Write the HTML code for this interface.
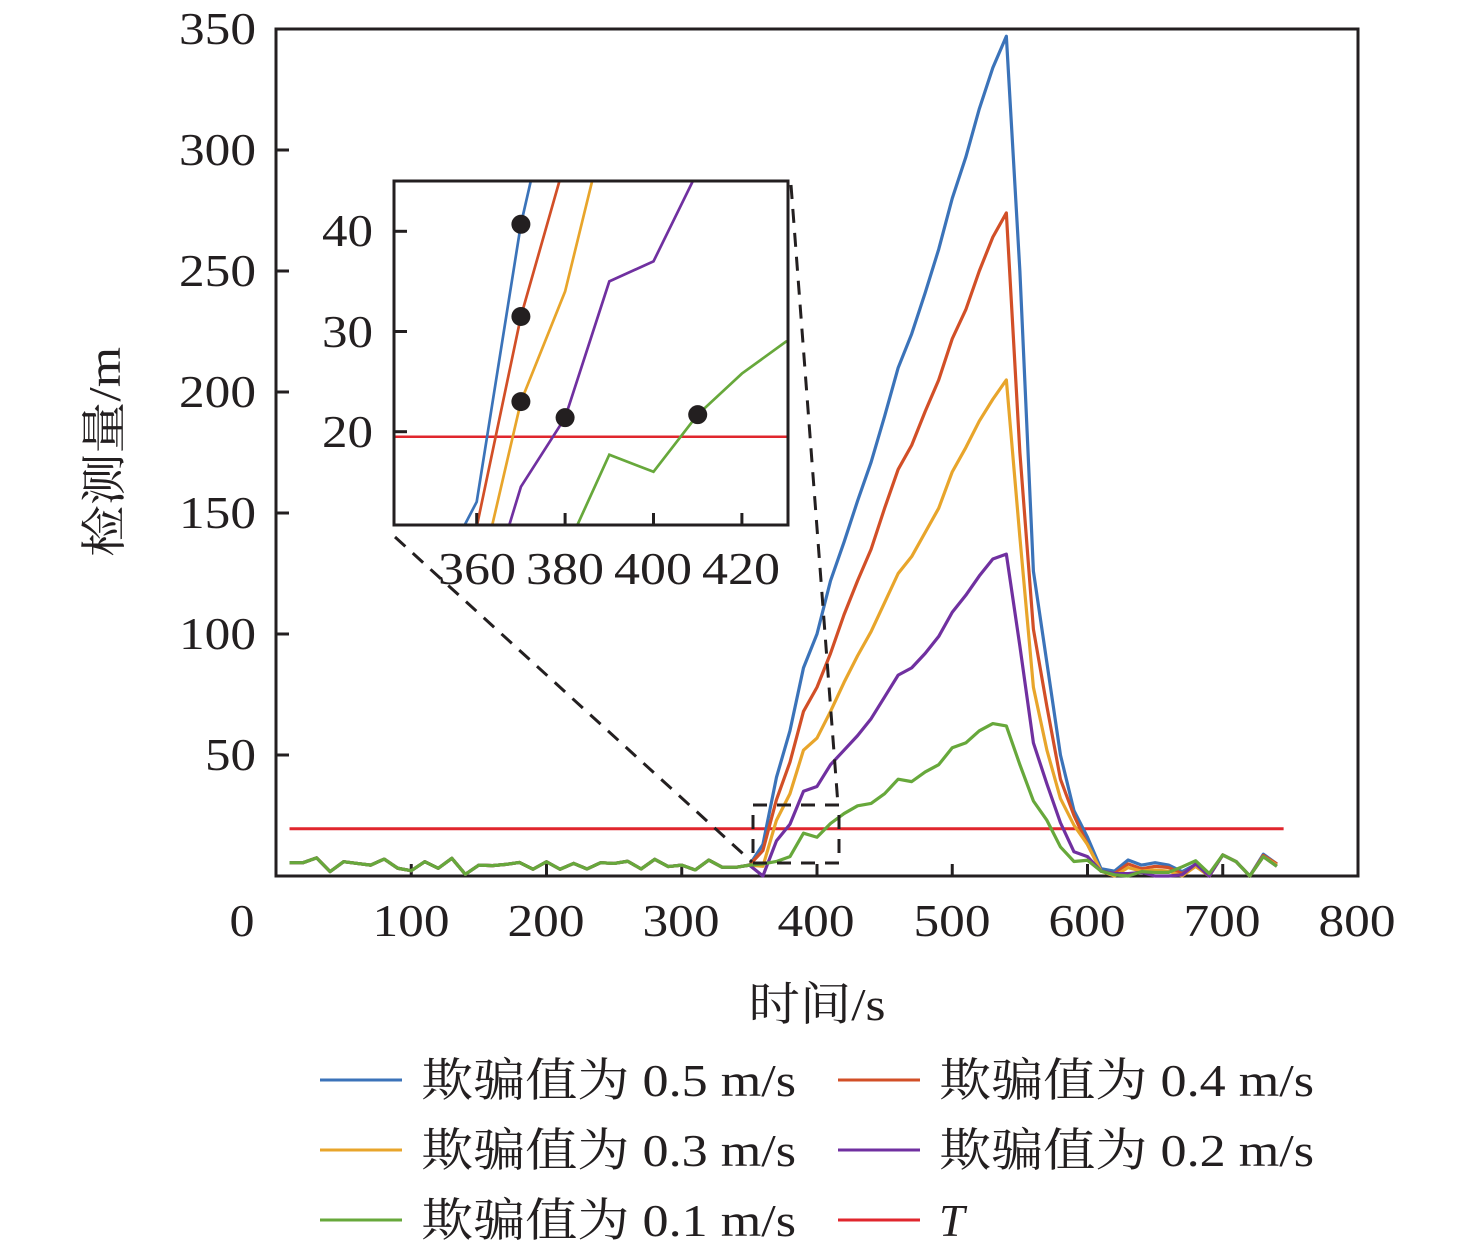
<!DOCTYPE html>
<html><head><meta charset="utf-8"><style>
body{margin:0;background:#fff}
svg{display:block}
text{font-family:"Liberation Serif","Noto Serif CJK SC",serif;fill:#231f20}
</style></head><body>
<svg id="chart" width="1476" height="1255" viewBox="0 0 1476 1255" xmlns="http://www.w3.org/2000/svg">
<g id="main"></g>
<g id="inset"></g>
<g font-size="46" text-anchor="end">
<text x="256" y="44" textLength="77" lengthAdjust="spacingAndGlyphs">350</text><text x="256" y="165" textLength="77" lengthAdjust="spacingAndGlyphs">300</text><text x="256" y="286" textLength="77" lengthAdjust="spacingAndGlyphs">250</text><text x="256" y="407" textLength="77" lengthAdjust="spacingAndGlyphs">200</text><text x="256" y="528" textLength="77" lengthAdjust="spacingAndGlyphs">150</text><text x="256" y="649" textLength="77" lengthAdjust="spacingAndGlyphs">100</text><text x="256" y="770" textLength="51" lengthAdjust="spacingAndGlyphs">50</text>
</g>
<g font-size="46" text-anchor="middle">
<text x="242" y="936" textLength="25" lengthAdjust="spacingAndGlyphs">0</text><text x="411" y="936" textLength="77" lengthAdjust="spacingAndGlyphs">100</text><text x="546" y="936" textLength="77" lengthAdjust="spacingAndGlyphs">200</text><text x="681" y="936" textLength="77" lengthAdjust="spacingAndGlyphs">300</text><text x="816" y="936" textLength="77" lengthAdjust="spacingAndGlyphs">400</text><text x="952" y="936" textLength="77" lengthAdjust="spacingAndGlyphs">500</text><text x="1087" y="936" textLength="77" lengthAdjust="spacingAndGlyphs">600</text><text x="1222" y="936" textLength="77" lengthAdjust="spacingAndGlyphs">700</text><text x="1357" y="936" textLength="77" lengthAdjust="spacingAndGlyphs">800</text>
</g>
<g font-size="46">
<text x="373" y="246" text-anchor="end" textLength="51" lengthAdjust="spacingAndGlyphs">40</text><text x="373" y="347" text-anchor="end" textLength="51" lengthAdjust="spacingAndGlyphs">30</text><text x="373" y="447" text-anchor="end" textLength="51" lengthAdjust="spacingAndGlyphs">20</text>
<text x="477" y="584" text-anchor="middle" textLength="78" lengthAdjust="spacingAndGlyphs">360</text><text x="565" y="584" text-anchor="middle" textLength="78" lengthAdjust="spacingAndGlyphs">380</text><text x="653" y="584" text-anchor="middle" textLength="78" lengthAdjust="spacingAndGlyphs">400</text><text x="741" y="584" text-anchor="middle" textLength="78" lengthAdjust="spacingAndGlyphs">420</text>
</g>
<text x="817" y="1020" font-size="46" text-anchor="middle" textLength="137" lengthAdjust="spacingAndGlyphs">时间/s</text>
<text x="0" y="0" font-size="46" text-anchor="middle" transform="translate(120,452) rotate(-90)" textLength="210" lengthAdjust="spacingAndGlyphs">检测量/m</text>
<g id="legend" font-size="46"></g>
</svg>
<script>
const times=[10,20,30,40,50,60,70,80,90,100,110,120,130,140,150,160,170,180,190,200,210,220,230,240,250,260,270,280,290,300,310,320,330,340,350,360,370,380,390,400,410,420,430,440,450,460,470,480,490,500,510,520,530,540,550,560,570,580,590,600,610,620,630,640,650,660,670,680,690,700,710,720,730,740];
const baseline=[5.5,5.5,7.5,1.8,5.9,5.2,4.5,7,3.2,2.2,5.9,3.2,7.3,0.7,4.5,4.3,4.8,5.6,2.8,5.9,2.8,5.2,2.9,5.5,5.2,6.1,2.9,6.9,3.9,4.5,2.5,6.6,3.6,3.6,4.5];
const blueTail=[13,40.7,60,86,100,122,138,155,171,190,210,224,241,259,280,297,317,334,347,250,126,88,50,27,16,3,2,6.6,4.5,5.5,4.5,1.8,4.8,0,8.7,5.9,0,9,5];
const redTail=[10.5,31.5,47,68,78,92,108,122,135,152,168,178,192,205,222,234,250,264,274,175,102,70,40,25,13,2,1,5,3,4,3.5,1,4,0,8.7,5.9,0,8.5,5];
const yellowTail=[4,23,34,52,57,68,80,91,101,113,125,132,142,152,167,177,188,197,205,140,78,52,32,21,13,2,0,3.5,2,2.5,2,0,4,0,8.7,5.9,0,8,4.5];
const purpleTail=[0,14.5,21.4,35,37,46,52,58,65,74,83,86,92,99,109,116,124,131,133,95,55,38,22,10,8,2,1,1,1.5,0,0,0.5,5,0,8.7,5.9,0,8,4];
const greenTail=[5,6,8,17.7,16,21.7,25.8,29,30,34,40,39,43,46,53,55,60,63,62,46,31,23,12,6,6.5,2,0.5,0,1.8,1.5,1.5,3.8,6.3,1,8.7,5.9,0,8,4];
const threshold=19.5;
const seriesNames=["欺骗值为 0.5 m/s","欺骗值为 0.4 m/s","欺骗值为 0.3 m/s","欺骗值为 0.2 m/s","欺骗值为 0.1 m/s"];
const xTicks=[100,200,300,400,500,600,700];
const yTicks=[50,100,150,200,250,300];
const insetXTicks=[360,380,400,420];
const insetYTicks=[20,30,40];

const colors=["#3b73b9","#d24f27","#e8a52b","#7030a0","#67a83b"];
const keys=["blue","red","yellow","purple","green"];
const tails=[blueTail,redTail,yellowTail,purpleTail,greenTail];
const series=tails.map(t=>baseline.concat(t));
const NS="http://www.w3.org/2000/svg";
function mk(tag,attrs,parent){const e=document.createElementNS(NS,tag);for(const k in attrs)e.setAttribute(k,attrs[k]);parent.appendChild(e);return e;}
const X=v=>276+v*1.3525, Y=v=>876-v*2.42;
const IX=v=>476.7+(v-360)*4.42, IY=v=>431.7-(v-20)*10.02;
const main=document.getElementById('main'), inset=document.getElementById('inset');
let r=mk('rect',{x:276,y:29,width:1082,height:847,fill:'none',stroke:'#231f20','stroke-width':3},main);


xTicks.forEach(t=>{const l=mk('line',{x1:X(t),x2:X(t),y1:876,y2:864,stroke:'#231f20','stroke-width':3},main);

});
yTicks.forEach(t=>{const l=mk('line',{x1:276,x2:289,y1:Y(t),y2:Y(t),stroke:'#231f20','stroke-width':3},main);

});
let tl=mk('line',{x1:X(10),x2:X(745),y1:Y(threshold),y2:Y(threshold),stroke:'#e0262d','stroke-width':3},main);


series.forEach((s,i)=>{const p=mk('polyline',{points:s.map((v,j)=>X(times[j])+','+Y(v)).join(' '),fill:'none',stroke:colors[i],'stroke-width':3.2,'stroke-linejoin':'round'},main);

});
let dr=mk('rect',{x:753,y:805,width:86,height:58,fill:'none',stroke:'#231f20','stroke-width':3,'stroke-dasharray':'14,10'},main);


let c1=mk('line',{x1:791,y1:185,x2:838,y2:805,stroke:'#231f20','stroke-width':3,'stroke-dasharray':'14,10'},main);


let c2=mk('line',{x1:395,y1:537,x2:752,y2:862,stroke:'#231f20','stroke-width':3,'stroke-dasharray':'14,10'},main);


let ib=mk('rect',{x:394,y:181,width:394,height:344,fill:'#fff',stroke:'none'},inset);


const cp=mk('clipPath',{id:'ic'},inset);mk('rect',{x:394,y:181,width:394,height:344},cp);
const ig=mk('g',{'clip-path':'url(#ic)'},inset);


let itl=mk('line',{x1:394,x2:788,y1:IY(threshold),y2:IY(threshold),stroke:'#e0262d','stroke-width':2.5},ig);


series.forEach((s,i)=>{const p=mk('polyline',{points:s.map((v,j)=>IX(times[j])+','+IY(v)).join(' '),fill:'none',stroke:colors[i],'stroke-width':2.7},ig);

});
series.forEach((s,i)=>{let j=s.findIndex((v,k)=>times[k]>=355&&v>threshold);if(j<0)return;
const d=mk('circle',{cx:IX(times[j]),cy:IY(s[j]),r:9.5,fill:'#231f20'},inset);

});
let ifr=mk('rect',{x:394,y:181,width:394,height:344,fill:'none',stroke:'#231f20','stroke-width':3},inset);


insetXTicks.forEach(t=>{const l=mk('line',{x1:IX(t),x2:IX(t),y1:525,y2:513,stroke:'#231f20','stroke-width':3},inset);

});
insetYTicks.forEach(t=>{const l=mk('line',{x1:394,x2:407,y1:IY(t),y2:IY(t),stroke:'#231f20','stroke-width':3},inset);

});
const lg=document.getElementById('legend');
const entries=seriesNames.map((n,i)=>({n,c:colors[i]})).concat([{n:'T',c:'#e0262d',it:true}]);
entries.forEach((e,i)=>{const col=i%2,row=Math.floor(i/2);const lx=col?838:320,ly=1080+row*70;
const g=mk('g',{},lg);


mk('line',{x1:lx,x2:lx+82,y1:ly,y2:ly,stroke:e.c,'stroke-width':3},g);
const t=mk('text',{x:lx+101,y:ly+16},g);t.textContent=e.n;
if(e.it){t.setAttribute('font-style','italic');}else{t.setAttribute('textLength','375');t.setAttribute('lengthAdjust','spacingAndGlyphs');}});
</script>
</body></html>
